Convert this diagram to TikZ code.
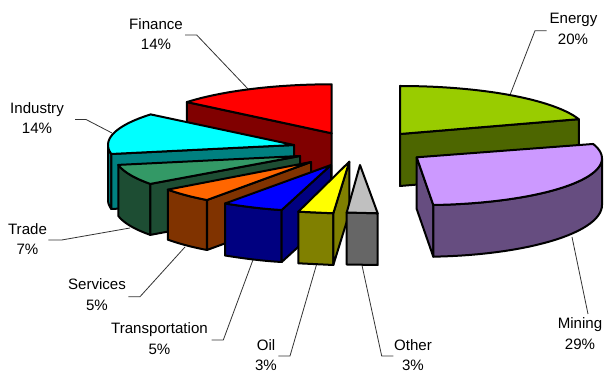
\documentclass[tikz,border=0pt]{standalone}
\usepackage{fontspec}
\setmainfont{Liberation Sans}
\definecolor{finT}{HTML}{FF0000}\definecolor{finS}{HTML}{800000}
\definecolor{indT}{HTML}{00FFFF}\definecolor{indS}{HTML}{008080}
\definecolor{traT}{HTML}{339966}\definecolor{traS}{HTML}{1D4D33}
\definecolor{serT}{HTML}{FF6600}\definecolor{serS}{HTML}{803300}
\definecolor{trnT}{HTML}{0000FF}\definecolor{trnS}{HTML}{000080}
\definecolor{oilT}{HTML}{FFFF00}\definecolor{oilS}{HTML}{808000}
\definecolor{othT}{HTML}{C0C0C0}\definecolor{othS}{HTML}{666666}
\definecolor{eneT}{HTML}{99CC00}\definecolor{eneS}{HTML}{4D6600}
\definecolor{minT}{HTML}{CC99FF}\definecolor{minS}{HTML}{664D80}
\tikzset{
  face/.style={draw=black, line width=1.5pt, line join=round},
  lead/.style={draw=black!80, line width=0.6pt},
  lbl/.style={anchor=base, inner sep=0pt, font=\fontsize{11.3}{13}\selectfont}
}
\begin{document}
\begin{tikzpicture}[x=0.75pt,y=-0.75pt]
\useasboundingbox (0,0) rectangle (604,373);

% labels
\node[lbl] (finA) at (156,30) {Finance};
\node[lbl] (finB) at (156,50) {14\%};
\node[lbl] (indA) at (37,113.5) {Industry};
\node[lbl] (indB) at (37,134) {14\%};
\node[lbl] (eneA) at (573.5,23.5) {Energy};
\node[lbl] (eneB) at (573,45) {20\%};
\node[lbl] (traA) at (27.5,235) {Trade};
\node[lbl] (traB) at (27.5,255) {7\%};
\node[lbl] (serA) at (97,290) {Services};
\node[lbl] (serB) at (97,310.5) {5\%};
\node[lbl] (trnA) at (159.5,334) {Transportation};
\node[lbl] (trnB) at (159.5,354.5) {5\%};
\node[lbl] (oilA) at (266,351) {Oil};
\node[lbl] (oilB) at (266,370.5) {3\%};
\node[lbl] (othA) at (413,351) {Other};
\node[lbl] (othB) at (413,370.5) {3\%};
\node[lbl] (minA) at (580,329) {Mining};
\node[lbl] (minB) at (580,350) {29\%};

% leader line anchors
\coordinate (finL0) at (185,35);   \coordinate (finL1) at (196.7,35);  \coordinate (finL2) at (249,90);
\coordinate (indL0) at (75,119.5); \coordinate (indL1) at (86,119.5);  \coordinate (indL2) at (112,133);
\coordinate (eneL0) at (546.7,30.7); \coordinate (eneL1) at (535,30.7); \coordinate (eneL2) at (510,95);
\coordinate (traL0) at (48.3,240); \coordinate (traL1) at (61.7,240);  \coordinate (traL2) at (130,228);
\coordinate (serL0) at (128.3,296.7); \coordinate (serL1) at (140,296.7); \coordinate (serL2) at (185,247);
\coordinate (trnL0) at (211.7,340); \coordinate (trnL1) at (223.3,340); \coordinate (trnL2) at (253.3,259);
\coordinate (oilL0) at (278.3,356); \coordinate (oilL1) at (290,356); \coordinate (oilL2) at (316.7,264);
\coordinate (othL0) at (393.3,356); \coordinate (othL1) at (381.7,356); \coordinate (othL2) at (361.7,264);
\coordinate (minL0) at (588,314); \coordinate (minL1) at (572,237);

\draw[lead] (finL0) -- (finL1) -- (finL2);
\draw[lead] (indL0) -- (indL1) -- (indL2);
\draw[lead] (eneL0) -- (eneL1) -- (eneL2);
\draw[lead] (traL0) -- (traL1) -- (traL2);
\draw[lead] (serL0) -- (serL1) -- (serL2);
\draw[lead] (trnL0) -- (trnL1) -- (trnL2);
\draw[lead] (oilL0) -- (oilL1) -- (oilL2);
\draw[lead] (othL0) -- (othL1) -- (othL2);
\draw[lead] (minL0) -- (minL1);

% Energy
\path[face, fill=eneS] (400,134) -- (578.8,119.2) -- (578.8,171) -- (400,186) -- cycle;
\path[face, fill=eneT] (400,134) -- plot[domain=-90:-18, samples=30] ({400+188*cos(\x)},{134+48*sin(\x)}) -- cycle;

% Finance
\path[face, fill=finS] (186.9,102.1) -- (331.7,133.3) -- (331.7,185) -- (186.9,153.8) -- cycle;
\path[face, fill=finT] (331.7,133.3) -- plot[domain=219.6:270, samples=25] ({331.7+188*cos(\x)},{133.3+49*sin(\x)}) -- cycle;

% Industry
\path[face, fill=indS] plot[domain=169.2:180, samples=6] ({294+186*cos(\x)},{145+48*sin(\x)}) -- plot[domain=180:169.2, samples=6] ({294+186*cos(\x)},{200+48*sin(\x)}) -- cycle;
\path[face, fill=indS] (111.3,154) -- (294,145) -- (294,200) -- (111.3,209) -- cycle;
\path[face, fill=indT] (294,145) -- plot[domain=169.2:219.6, samples=25] ({294+186*cos(\x)},{145+48*sin(\x)}) -- cycle;

% Trade
\path[face, fill=traS] plot[domain=144:169.2, samples=12] ({300+185*cos(\x)},{156+47.5*sin(\x)}) -- plot[domain=169.2:144, samples=12] ({300+185*cos(\x)},{207+47.5*sin(\x)}) -- cycle;
\path[face, fill=traS] (150.3,183.9) -- (300,156) -- (300,207) -- (150.3,234.9) -- cycle;
\path[face, fill=traT] (300,156) -- plot[domain=144:169.2, samples=12] ({300+185*cos(\x)},{156+47.5*sin(\x)}) -- cycle;

% Services
\path[face, fill=serS] plot[domain=126:144, samples=10] ({311+177*cos(\x)},{162+47*sin(\x)}) -- plot[domain=144:126, samples=10] ({311+177*cos(\x)},{212+47*sin(\x)}) -- cycle;
\path[face, fill=serS] (207,200) -- (311,162) -- (311,212) -- (207,250) -- cycle;
\path[face, fill=serT] (311,162) -- plot[domain=126:144, samples=10] ({311+177*cos(\x)},{162+47*sin(\x)}) -- cycle;

% Transportation
\path[face, fill=trnS] (225,203.5) .. controls (244,206.5) and (263,209) .. (281.7,210) -- (281.7,262) .. controls (263,261) and (244,258.5) .. (225,255.5) -- cycle;
\path[face, fill=trnS] (281.7,210) -- (331,165) -- (331,217) -- (281.7,262) -- cycle;
\path[face, fill=trnT] (331,165) -- (225,203.5) .. controls (244,206.5) and (263,209) .. (281.7,210) -- cycle;

% Oil
\path[face, fill=oilS] (298.3,211.7) -- (333.3,213.3) -- (333.3,265) -- (298.3,263.3) -- cycle;
\path[face, fill=oilS] (333.3,213.3) -- (349.3,161.7) -- (349.3,213.4) -- (333.3,265) -- cycle;
\path[face, fill=oilT] (349.3,161.7) -- (298.3,211.7) -- (333.3,213.3) -- cycle;

% Other
\path[face, fill=othS] (346.7,212.5) -- (377.7,213.3) -- (377.7,265) -- (346.7,264.5) -- cycle;
\path[face, fill=othT] (360,165) -- (346.7,212.5) -- (377.7,213.3) -- cycle;

% Mining
\path[face, fill=minS] (416.7,157.3) -- (433.3,205) -- (433.3,256.7) -- (416.7,209) -- cycle;
\path[face, fill=minS] plot[domain=0:86.4, samples=30] ({422+180*cos(\x)},{158.4+46.7*sin(\x)}) -- plot[domain=86.4:0, samples=30] ({422+180*cos(\x)},{205+51.8*sin(\x)}) -- cycle;
\path[face, fill=minT] (416.7,157.3) -- plot[domain=-18:86.4, samples=40] ({422+180*cos(\x)},{158.4+46.7*sin(\x)}) -- cycle;
\end{tikzpicture}
\end{document}
